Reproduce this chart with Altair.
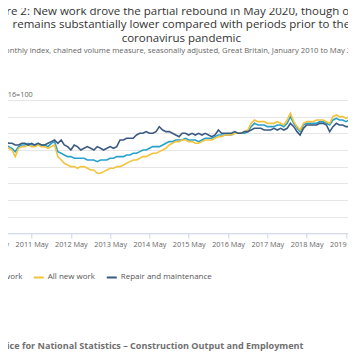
import altair as alt
import pandas as pd

series_names = ["All work", "All new work", "Repair and maintenance"]
series_colors = ["#27a0cc", "#f2c43d", "#3b5a82"]

# Monthly index values, Jan 2010 .. May 2020 (2016=100)
all_work = [
    90, 89, 92, 93, 93, 94, 94, 93, 93, 92, 91, 89,
    92, 93, 93, 94, 93, 93, 94, 93, 93, 92, 94, 95,
    89, 88, 87, 86, 86, 85, 85, 85, 85, 84, 84, 84,
    83, 84, 84, 84, 85, 85, 86, 86, 86, 87, 87, 88,
    88, 89, 90, 90, 91, 92, 92, 92, 93, 94, 95, 95,
    96, 96, 96, 97, 96, 96, 96, 95, 96, 97, 97, 97,
    98, 99, 99, 99, 99, 99, 100, 100, 100, 100, 101, 104,
    106, 105, 105, 105, 104, 104, 104, 105, 105, 104, 106, 110,
    106, 103, 101, 105, 106, 106, 106, 106, 107, 107, 106, 105,
    108, 109, 108, 108, 107, 108, 107, 108, 108, 107, 107, 106,
    107, 106, 93, 59, 71,
]
new_work = [
    88, 87, 91, 92, 92, 93, 94, 93, 92, 91, 90, 86,
    91, 92, 92, 93, 92, 92, 93, 92, 92, 91, 92, 93,
    86, 84, 82, 81, 80, 80, 79, 80, 80, 79, 78, 78,
    76, 76, 77, 78, 79, 79, 80, 80, 81, 82, 83, 84,
    84, 85, 86, 86, 87, 88, 88, 89, 90, 91, 93, 94,
    95, 95, 96, 96, 95, 95, 94, 94, 95, 96, 96, 96,
    97, 98, 98, 99, 99, 99, 100, 100, 100, 101, 102, 106,
    108, 107, 107, 107, 106, 106, 106, 107, 106, 105, 108, 112,
    107, 104, 102, 106, 107, 107, 107, 108, 108, 108, 107, 106,
    110, 111, 110, 110, 109, 110, 109, 110, 110, 109, 109, 108,
    109, 108, 93, 52, 64,
]
repair = [
    93, 92, 94, 95, 95, 96, 95, 96, 95, 94, 94, 93,
    93, 94, 94, 93, 94, 93, 94, 93, 93, 94, 95, 96,
    94, 96, 93, 92, 90, 93, 92, 90, 91, 92, 91, 90,
    92, 91, 90, 91, 92, 91, 92, 96, 96, 97, 97, 97,
    99, 100, 100, 101, 100, 100, 101, 104, 102, 101, 101, 100,
    99, 98, 100, 100, 99, 100, 99, 100, 99, 100, 99, 98,
    99, 102, 100, 100, 100, 100, 101, 100, 100, 101, 101, 102,
    103, 103, 103, 102, 102, 102, 103, 102, 103, 102, 103, 106,
    104, 101, 99, 103, 105, 105, 105, 105, 106, 106, 105, 101,
    104, 106, 105, 105, 104, 104, 104, 105, 104, 104, 104, 103,
    104, 103, 93, 66, 77,
]

title_lines = [
    "Figure 2: New work drove the partial rebound in May 2020, though output",
    "remains substantially lower compared with periods prior to the",
    "coronavirus pandemic",
]
title_y = [-85, -72.2, -58.4]
subtitle_text = ("Monthly index, chained volume measure, seasonally adjusted, "
                 "Great Britain, January 2010 to May 2020")
source_text = "Source: Office for National Statistics \u2013 Construction Output and Employment"
y_title = "Index, 2016=100"
tick_years = list(range(2010, 2021))

months = pd.date_range("2010-01-01", periods=len(all_work), freq="MS").strftime("%Y-%m-%d")
rows = []
for name, vals in zip(series_names, [all_work, new_work, repair]):
    for d, v in zip(months, vals):
        rows.append({"date": d, "value": v, "series": name})
df = pd.DataFrame(rows)

W, H = 406, 133.3
FONT = "Open Sans"

lines = alt.Chart(df).mark_line(strokeWidth=1.6).encode(
    x=alt.X(
        "date:T",
        scale=alt.Scale(
            type="utc",
            nice=False,
            domain=[alt.DateTime(year=2010, month=1, date=1, utc=True),
                    alt.DateTime(year=2020, month=5, date=1, utc=True)],
        ),
        axis=alt.Axis(
            values=[alt.DateTime(year=y, month=5, date=1, utc=True) for y in tick_years],
            labelExpr="utcFormat(datum.value, '%Y') + ' May'",
            grid=False, title=None,
            domainColor="#ccd6eb", tickColor="#ccd6eb", tickSize=5,
            labelFont=FONT, labelFontSize=7.3, labelColor="#666666",
            labelPadding=2, labelOverlap=False, labelFlush=False,
        ),
    ),
    y=alt.Y(
        "value:Q",
        scale=alt.Scale(domain=[40, 120], nice=False, zero=False),
        axis=alt.Axis(
            values=list(range(40, 121, 10)), grid=True, gridColor="#e6e6e6",
            domain=False, ticks=False, labels=False,
            title=y_title, titleAngle=0, titleX=-3, titleY=-3,
            titleAlign="left", titleBaseline="alphabetic",
            titleFont=FONT, titleFontSize=7.3, titleFontWeight="normal",
            titleColor="#666666",
        ),
    ),
    color=alt.Color(
        "series:N",
        sort=series_names,
        scale=alt.Scale(domain=series_names, range=series_colors),
        legend=alt.Legend(
            title=None, orient="none", legendX=-1.5, legendY=171.5,
            direction="horizontal", symbolType="stroke", symbolStrokeWidth=2,
            symbolSize=100, labelFont=FONT, labelFontSize=8, labelColor="#555555",
            labelOffset=3, columnPadding=7, padding=0,
        ),
    ),
)

title_marks = [
    alt.Chart(pd.DataFrame({"t": [txt]})).mark_text(
        font=FONT, fontSize=11.5, color="#333333", align="center",
        baseline="alphabetic",
    ).encode(text="t:N", x=alt.value(202), y=alt.value(yy))
    for txt, yy in zip(title_lines, title_y)
]

subtitle = alt.Chart(pd.DataFrame({"t": [subtitle_text]})).mark_text(
    font=FONT, fontSize=7.7, color="#666666", align="center", baseline="alphabetic",
).encode(text="t:N", x=alt.value(202), y=alt.value(-46.5))

source = alt.Chart(pd.DataFrame({"t": [source_text]})).mark_text(
    font=FONT, fontSize=9.1, fontWeight="bold", color="#707070", align="left",
    baseline="alphabetic",
).encode(text="t:N", x=alt.value(-22.5), y=alt.value(249))

chart = alt.layer(lines, *title_marks, subtitle, source).properties(
    width=W, height=H,
    autosize=alt.AutoSizeParams(type="none"),
    padding={"left": -28.7, "right": -37.3, "top": 92, "bottom": 120},
    background="white",
).configure_view(stroke=None)

chart.save("out.html", embed_options={"renderer": "svg", "actions": False})
